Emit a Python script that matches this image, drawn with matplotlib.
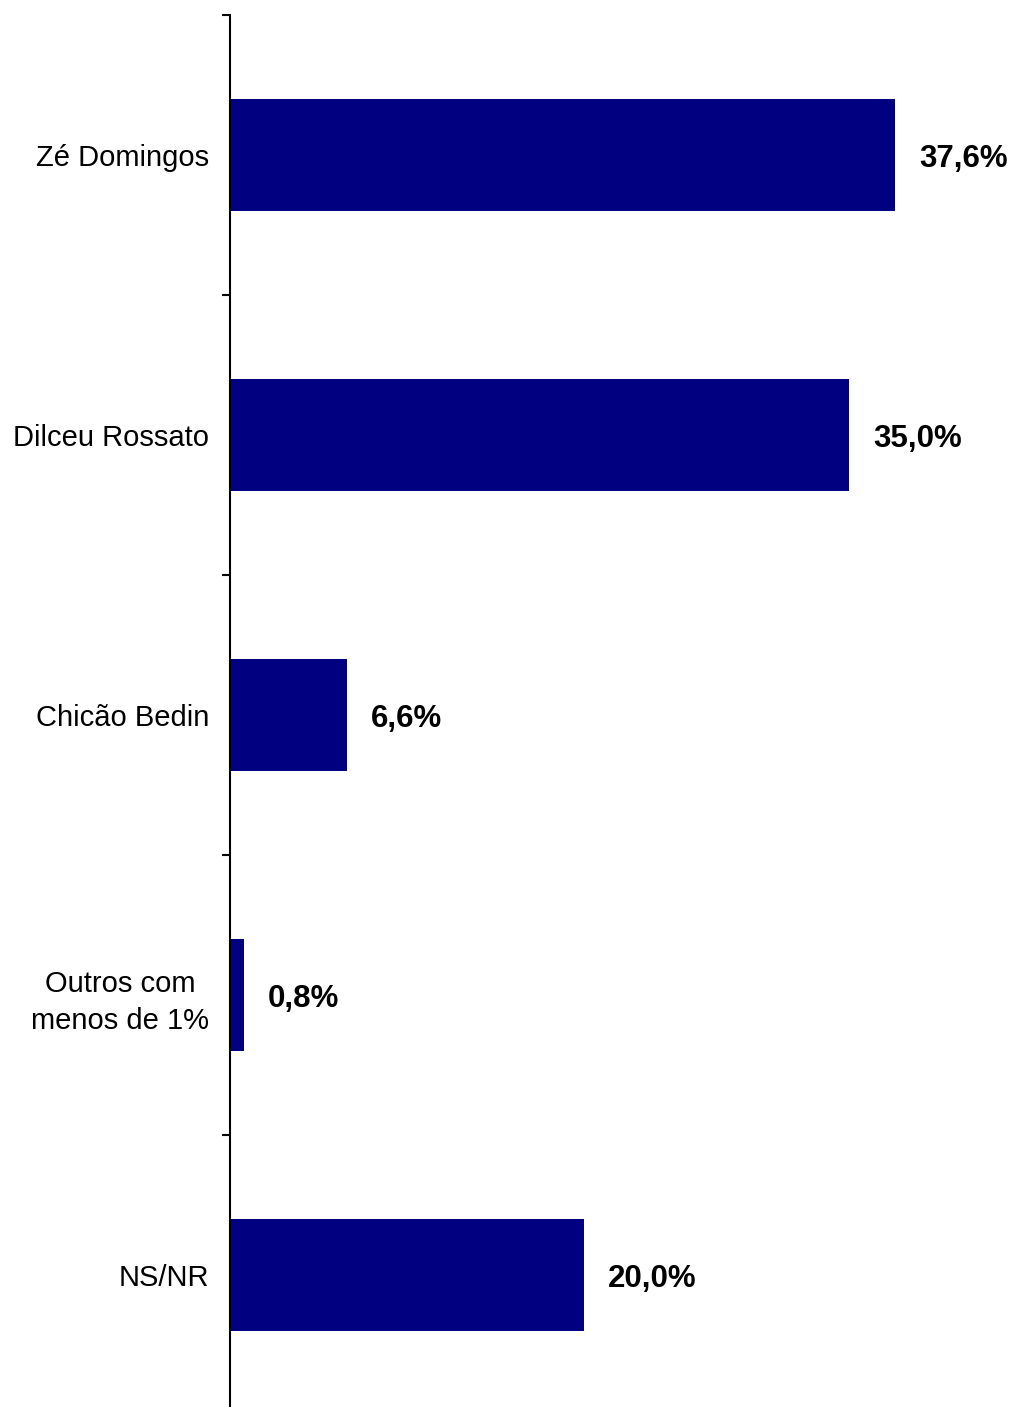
import matplotlib.pyplot as plt
import numpy as np

plt.rcParams['font.family'] = ['Liberation Sans', 'DejaVu Sans']

# Data
categories = ['Zé Domingos', 'Dilceu Rossato', 'Chicão Bedin', 'Outros com\nmenos de 1%', 'NS/NR']
values = [37.6, 35.0, 6.6, 0.8, 20.0]
value_labels = ['37,6%', '35,0%', '6,6%', '0,8%', '20,0%']

W, H = 1013, 1407
fig = plt.figure(figsize=(W / 100, H / 100), dpi=100)
# axes placed in pixel coordinates (bottom slightly below the figure edge)
left, right, top, bottom = 230, 1013, 15, 1415
ax = fig.add_axes([left / W, 1 - bottom / H, (right - left) / W, (bottom - top) / H])

y = np.arange(len(categories))
ax.barh(y, values, height=0.4, color='#000080')
ax.set_ylim(len(categories) - 0.5, -0.5)
ax.set_xlim(0, (right - left) / 17.68)

for yi, v, lab in zip(y, values, value_labels):
    ax.text(v + 24 / 17.68, yi, lab, ha='left', va='center_baseline',
            fontsize=22.5, fontweight='bold', color='black')

ax.set_yticks(y)
ax.set_yticklabels(categories, fontsize=21, multialignment='center', linespacing=1.4)
ax.tick_params(axis='y', which='major', length=0, pad=15)
ax.set_yticks(np.arange(-0.5, len(categories), 1), minor=True)
ax.tick_params(axis='y', which='minor', length=6, width=1.5, direction='out')

ax.set_xticks([])
for side in ['top', 'right', 'bottom']:
    ax.spines[side].set_visible(False)
ax.spines['left'].set_linewidth(1.5)

fig.savefig('out.png', dpi=100)
